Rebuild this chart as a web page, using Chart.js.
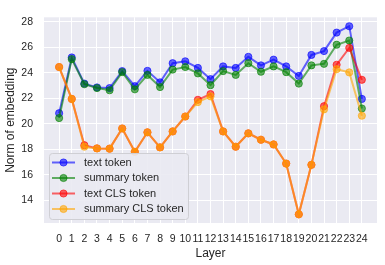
<!DOCTYPE html>
<html>
<head>
<meta charset="utf-8">
<script src="https://cdn.jsdelivr.net/npm/chart.js@4/dist/chart.umd.min.js"></script>
<style>
  html, body { margin: 0; padding: 0; background: #fff; }
  #wrap { width: 385px; height: 265px; }
</style>
</head>
<body>
<div id="wrap"><canvas id="normChart"></canvas></div>
<script>
const layers = [0, 1, 2, 3, 4, 5, 6, 7, 8, 9, 10, 11, 12, 13, 14, 15, 16, 17, 18, 19, 20, 21, 22, 23, 24];
const textToken = [20.83, 25.2, 23.15, 22.85, 22.8, 24.13, 22.95, 24.15, 23.25, 24.75, 24.9, 24.38, 23.5, 24.5, 24.38, 25.25, 24.58, 25.03, 24.5, 23.75, 25.4, 25.7, 27.15, 27.65, 21.95];
const summaryToken = [20.45, 25.07, 23.1, 22.8, 22.63, 24.05, 22.7, 23.83, 22.88, 24.25, 24.45, 23.95, 23.03, 24.13, 23.83, 24.75, 24.08, 24.5, 24.05, 23.15, 24.58, 24.7, 26.2, 26.53, 21.2];
const textCls = [24.45, 21.95, 18.32, 18.07, 18.05, 19.63, 17.8, 19.33, 18.15, 19.4, 20.57, 21.88, 22.33, 19.4, 18.2, 19.25, 18.75, 18.38, 16.88, 12.9, 16.78, 21.38, 24.63, 25.95, 23.45];
const summaryCls = [24.45, 21.95, 18.2, 18.07, 18.05, 19.63, 17.8, 19.33, 18.15, 19.4, 20.57, 21.7, 22.15, 19.4, 18.2, 19.25, 18.75, 18.38, 16.88, 12.9, 16.78, 21.13, 24.28, 24.03, 20.63];
const yTicks = [14, 16, 18, 20, 22, 24, 26, 28];

const textColor = '#262626';
const fontFamily = '"Liberation Sans", Arial, sans-serif';

function series(label, values, rgb, order) {
    return {
        label: label,
        data: values.map((v, i) => ({ x: layers[i], y: v })),
        borderColor: 'rgba(' + rgb + ',0.6)',
        backgroundColor: 'rgba(' + rgb + ',0.6)',
        pointBorderColor: 'rgba(' + rgb + ',0.6)',
        pointBackgroundColor: 'rgba(' + rgb + ',0.6)',
        borderWidth: 2,
        pointRadius: 3.6,
        pointHoverRadius: 3.6,
        pointBorderWidth: 1,
        tension: 0,
        order: order
    };
}

// grey plot background like seaborn darkgrid
const plotBackground = {
    id: 'plotBackground',
    beforeDraw(chart) {
        const { ctx, chartArea: a } = chart;
        ctx.save();
        ctx.fillStyle = '#EAEAF2';
        ctx.fillRect(a.left, a.top, a.right - a.left, a.bottom - a.top);
        ctx.restore();
    }
};

// legend box in the lower left corner of the plot
const innerLegend = {
    id: 'innerLegend',
    afterDatasetsDraw(chart) {
        const { ctx, chartArea: a } = chart;
        const sets = chart.data.datasets;
        const x0 = a.left + 5, w = 139, rowH = 15.5, h = 66;
        const y0 = a.bottom - 4 - h;
        ctx.save();
        ctx.beginPath();
        ctx.roundRect(x0 + 0.5, y0 + 0.5, w, h, 3);
        ctx.fillStyle = 'rgba(234,234,242,0.9)';
        ctx.fill();
        ctx.strokeStyle = '#CFCFD4';
        ctx.lineWidth = 1;
        ctx.stroke();
        ctx.font = '11px ' + fontFamily;
        ctx.textBaseline = 'middle';
        sets.forEach((ds, i) => {
            const cy = y0 + 9.5 + i * rowH;
            ctx.strokeStyle = ds.borderColor;
            ctx.lineWidth = 2;
            ctx.beginPath();
            ctx.moveTo(x0 + 3, cy);
            ctx.lineTo(x0 + 26, cy);
            ctx.stroke();
            ctx.beginPath();
            ctx.arc(x0 + 14.5, cy, 3.6, 0, Math.PI * 2);
            ctx.fillStyle = ds.pointBackgroundColor;
            ctx.fill();
            ctx.lineWidth = 1;
            ctx.stroke();
            ctx.fillStyle = textColor;
            ctx.fillText(ds.label, x0 + 35, cy);
        });
        ctx.restore();
    }
};

document.addEventListener('DOMContentLoaded', function () {
    const ctx = document.getElementById('normChart').getContext('2d');
    new Chart(ctx, {
        type: 'line',
        data: {
            datasets: [
                series('text token', textToken, '0,0,255', 4),
                series('summary token', summaryToken, '0,128,0', 3),
                series('text CLS token', textCls, '255,0,0', 2),
                series('summary CLS token', summaryCls, '255,165,0', 1)
            ]
        },
        options: {
            responsive: true,
            maintainAspectRatio: false,
            animation: false,
            layout: { padding: { top: 8, right: 8, left: 0, bottom: 0 } },
            plugins: {
                legend: { display: false },
                tooltip: { enabled: false }
            },
            scales: {
                x: {
                    type: 'linear',
                    min: -1.2,
                    max: 25.2,
                    afterBuildTicks: s => { s.ticks = layers.map(v => ({ value: v })); },
                    afterFit: s => { s.height = 42; },
                    grid: { color: '#FFFFFF', lineWidth: 1, drawTicks: false },
                    border: { display: false },
                    ticks: {
                        color: textColor, padding: 10, maxRotation: 0, autoSkip: false,
                        font: { family: fontFamily, size: 10.5 }
                    },
                    title: {
                        display: true, text: 'Layer', color: textColor,
                        font: { family: fontFamily, size: 12 }, padding: { top: 0, bottom: 4 }
                    }
                },
                y: {
                    min: 12.22,
                    max: 28.35,
                    afterBuildTicks: s => { s.ticks = yTicks.map(v => ({ value: v })); },
                    afterFit: s => { s.width = 44; },
                    grid: { color: '#FFFFFF', lineWidth: 1, drawTicks: false },
                    border: { display: false },
                    ticks: {
                        color: textColor, padding: 11,
                        font: { family: fontFamily, size: 10.5 }
                    },
                    title: {
                        display: true, text: 'Norm of embedding', color: textColor,
                        font: { family: fontFamily, size: 12 }, padding: { top: 3, bottom: 0 }
                    }
                }
            }
        },
        plugins: [plotBackground, innerLegend]
    });
});
</script>
</body>
</html>
